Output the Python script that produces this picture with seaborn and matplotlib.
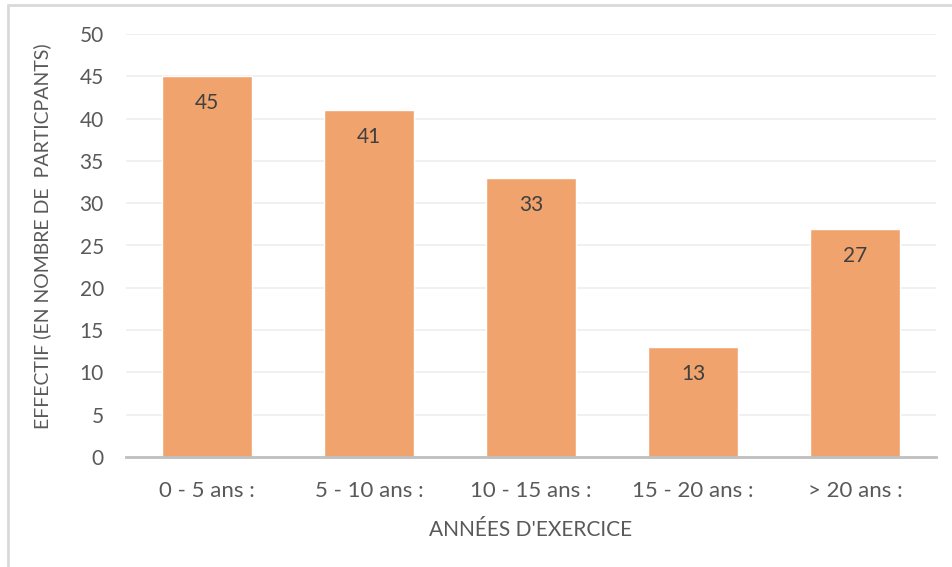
import matplotlib
matplotlib.use("Agg")
import matplotlib.pyplot as plt
import seaborn as sns
import pandas as pd
from matplotlib.lines import Line2D

categories = ["0 - 5 ans :", "5 - 10 ans :", "10 - 15 ans :", "15 - 20 ans :", "> 20 ans :"]
effectifs = [45, 41, 33, 13, 27]
y_ticks = [0, 5, 10, 15, 20, 25, 30, 35, 40, 45, 50]

x_title = "ANNÉES D'EXERCICE"
y_title = "EFFECTIF (EN NOMBRE DE  PARTICPANTS)"

sns.set_style("white")
plt.rcParams["font.family"] = ["Lato", "DejaVu Sans"]

TEXT = "#595959"
BAR = "#F1A36D"

df = pd.DataFrame({"cat": categories, "n": effectifs})

W, H = 953, 567
fig = plt.figure(figsize=(W / 100, H / 100), dpi=100)
ax = fig.add_axes([126 / W, 1 - 457 / H, 810 / W, (457 - 34) / H])

sns.barplot(data=df, x="cat", y="n", color=BAR, saturation=1, width=0.556, ax=ax, zorder=3)

ax.set_ylim(0, 50)
ax.set_xlim(-0.5, len(categories) - 0.5)
ax.set_yticks(y_ticks)
ax.yaxis.grid(True, color="#EDEDED", linewidth=1.2, zorder=0)
ax.set_axisbelow(True)
for s in ["top", "right", "left"]:
    ax.spines[s].set_visible(False)
ax.spines["bottom"].set_color("#BFBFBF")
ax.spines["bottom"].set_linewidth(2)
ax.spines["bottom"].set_zorder(4)
ax.tick_params(axis="y", length=0, labelsize=15, labelcolor=TEXT, pad=16)
ax.tick_params(axis="x", length=0, labelsize=16, labelcolor=TEXT, pad=17)

for i, v in enumerate(effectifs):
    ax.annotate(str(v), (i, v), xytext=(0, -27), textcoords="offset pixels",
                ha="center", va="center", fontsize=15, color="#404040", zorder=5)

ax.set_xlabel(x_title, fontsize=15, color=TEXT, labelpad=14)
ax.set_ylabel(y_title, fontsize=14, color=TEXT)
ax.yaxis.set_label_coords(-(126 - 51) / 810, 0.522)

# outer frame of the chart area
fig.add_artist(Line2D([8 / W, 8 / W], [1 - 5 / H, 0], color="#D9D9D9", linewidth=2, transform=fig.transFigure))
fig.add_artist(Line2D([8 / W, 1], [1 - 5 / H, 1 - 5 / H], color="#D9D9D9", linewidth=2, transform=fig.transFigure))

fig.savefig("out.png", dpi=100)
